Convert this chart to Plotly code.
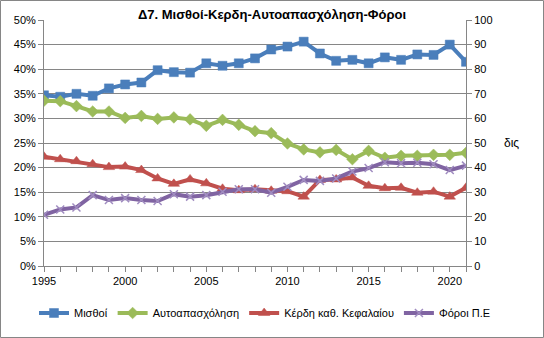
import plotly.graph_objects as go

years = list(range(1995, 2022))
misthoi = [34.7, 34.4, 35.0, 34.6, 36.1, 36.9, 37.3, 39.8, 39.4, 39.3, 41.2, 40.7, 41.2, 42.2, 44.0,
           44.6, 45.6, 43.2, 41.7, 41.9, 41.2, 42.4, 41.9, 43.0, 42.9, 45.0, 41.5]
autoapasx = [33.6, 33.5, 32.5, 31.4, 31.4, 30.1, 30.5, 29.9, 30.2, 29.8, 28.5, 29.7, 28.7, 27.4, 27.0,
             24.9, 23.7, 23.1, 23.6, 21.7, 23.4, 22.0, 22.4, 22.4, 22.6, 22.6, 23.0]
kerdi = [22.2, 21.7, 21.3, 20.7, 20.1, 20.2, 19.5, 17.8, 16.7, 17.6, 16.8, 15.7, 15.4, 15.6, 15.3,
         15.2, 14.1, 17.5, 17.6, 18.0, 16.3, 15.8, 15.9, 14.9, 15.1, 14.1, 15.9]
foroi = [10.4, 11.5, 11.9, 14.4, 13.4, 13.8, 13.4, 13.2, 14.6, 14.1, 14.4, 15.1, 15.6, 15.6, 14.9,
         16.1, 17.5, 17.3, 17.8, 19.2, 19.9, 21.1, 20.9, 21.0, 20.7, 19.5, 20.4]

names = ["Μισθοί", "Αυτοαπασχόληση", "Κέρδη καθ. Κεφαλαίου", "Φόροι Π.Ε"]
series = [misthoi, autoapasx, kerdi, foroi]
colors = ["#4A7EBB", "#9BBB59", "#C0504D", "#8064A2"]
symbols = ["square", "diamond", "triangle-up", "x-thin"]
msizes = [9, 9, 10, 8]

left_ticks = [0, 5, 10, 15, 20, 25, 30, 35, 40, 45, 50]
right_ticks = [0, 10, 20, 30, 40, 50, 60, 70, 80, 90, 100]
x_ticks = [1995, 2000, 2005, 2010, 2015, 2020]

fig = go.Figure()
for name, vals, c, s, ms in zip(names, series, colors, symbols, msizes):
    marker = dict(symbol=s, size=ms, color=c)
    if s == "x-thin":
        marker["line"] = dict(color="#A08CC0", width=1.5)
    else:
        marker["line"] = dict(color=c, width=0.5)
    fig.add_trace(go.Scatter(x=years, y=[v / 100 for v in vals], name=name, mode="lines+markers",
                             line=dict(color=c, width=4), marker=marker))

# dummy trace to activate right axis
fig.add_trace(go.Scatter(x=[years[0]], y=[None], yaxis="y2", showlegend=False, hoverinfo="skip"))

L, R, T, B = 44, 78, 20, 72
pw, ph = 544 - L - R, 338 - T - B

fig.update_layout(
    width=544, height=338,
    margin=dict(l=L, r=R, t=T, b=B, pad=0, autoexpand=False),
    paper_bgcolor="white", plot_bgcolor="white",
    font=dict(family="Liberation Sans, Arial", size=11, color="black"),
    title=dict(text="<b>Δ7. Μισθοί-Κερδη-Αυτοαπασχόληση-Φόροι</b>", x=272 / 544, xanchor="center",
               y=1 - 14 / 338, yanchor="middle", yref="container",
               font=dict(size=13, family="Liberation Sans, Arial")),
    xaxis=dict(range=[1995, 2021], tickvals=x_ticks, ticktext=[str(v) for v in x_ticks],
               showgrid=False, zeroline=False, showline=True, linecolor="#868686", linewidth=1,
               ticks="outside", ticklen=5, tickcolor="#868686",
               minor=dict(dtick=1, ticks="outside", ticklen=5, tickcolor="#868686", showgrid=False),
               tickfont=dict(size=11)),
    yaxis=dict(range=[0, 0.5], tickvals=[v / 100 for v in left_ticks],
               ticktext=[f"{v}%" for v in left_ticks],
               showgrid=True, gridcolor="#868686", gridwidth=1, zeroline=False,
               showline=True, linecolor="#868686", linewidth=1,
               ticks="outside", ticklen=5, tickcolor="#868686", tickfont=dict(size=11)),
    yaxis2=dict(range=[0, 100], tickvals=right_ticks, overlaying="y", side="right",
                showgrid=False, zeroline=False, showline=True, linecolor="#868686", linewidth=1,
                ticks="outside", ticklen=5, tickcolor="#868686", tickfont=dict(size=11)),
    legend=dict(orientation="h", x=(496 - L) / pw, xanchor="right",
                y=(266 - 313) / ph, yanchor="middle", font=dict(size=11), tracegroupgap=0,
                itemwidth=30, bgcolor="rgba(0,0,0,0)"),
    showlegend=True,
)

fig.add_annotation(text="δις", xref="paper", yref="paper", x=(512 - L) / pw, y=(266 - 143) / ph,
                   showarrow=False, font=dict(size=12), xanchor="center", yanchor="middle")

# outer chart border
fig.add_shape(type="rect", xref="paper", yref="paper",
              x0=(0.5 - L) / pw, x1=(543.5 - L) / pw, y0=(266 - 337.5) / ph, y1=(266 - 0.5) / ph,
              line=dict(color="#868686", width=1), layer="below")

fig.write_html("out.html")
